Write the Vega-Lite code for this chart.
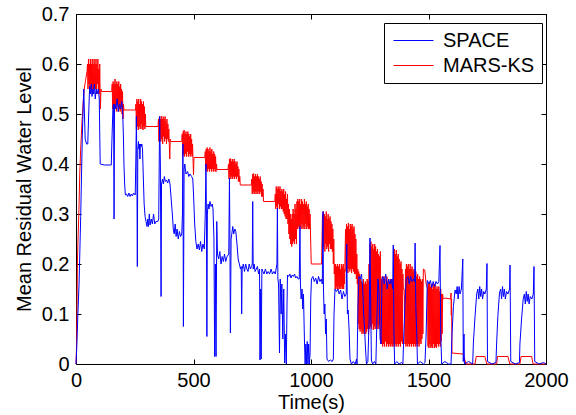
{
"$schema":"https://vega.github.io/schema/vega-lite/v6.json",
"width":470,"height":350,
"autosize":{"type":"none"},
"padding":{"left":76,"top":14,"right":30,"bottom":51},
"config":{"font":"Liberation Sans","view":{"stroke":"black","strokeWidth":1},
"axis":{"grid":false,"domainColor":"black","tickColor":"black","tickSize":-5,"labelFlush":false,"labelColor":"black","labelFontSize":20,"labelFont":"Liberation Sans","titleFont":"Liberation Sans","titleFontSize":20,"titleFontWeight":"normal","titleColor":"black"}},
"datasets":{
"space":[
{"s":"SPACE","t":0,"v":0},{"s":"SPACE","t":3,"v":0.03},{"s":"SPACE","t":8,"v":0.1},{"s":"SPACE","t":13,"v":0.16},{"s":"SPACE","t":20,"v":0.295},{"s":"SPACE","t":27,"v":0.46},{"s":"SPACE","t":33,"v":0.55},{"s":"SPACE","t":36,"v":0.5},{"s":"SPACE","t":39,"v":0.45},{"s":"SPACE","t":45,"v":0.44},{"s":"SPACE","t":50,"v":0.44},{"s":"SPACE","t":54,"v":0.5},{"s":"SPACE","t":58,"v":0.555},{"s":"SPACE","t":62,"v":0.54},{"s":"SPACE","t":65,"v":0.56},{"s":"SPACE","t":68,"v":0.535},{"s":"SPACE","t":72,"v":0.55},{"s":"SPACE","t":75,"v":0.54},{"s":"SPACE","t":78,"v":0.56},{"s":"SPACE","t":82,"v":0.53},{"s":"SPACE","t":86,"v":0.55},{"s":"SPACE","t":90,"v":0.54},{"s":"SPACE","t":95,"v":0.55},{"s":"SPACE","t":99,"v":0.53},{"s":"SPACE","t":101,"v":0.46},{"s":"SPACE","t":103,"v":0.4},{"s":"SPACE","t":120,"v":0.398},{"s":"SPACE","t":150,"v":0.398},
{"s":"SPACE","t":153,"v":0.45},{"s":"SPACE","t":157,"v":0.51},{"s":"SPACE","t":160,"v":0.52},{"s":"SPACE","t":162,"v":0.29},{"s":"SPACE","t":164,"v":0.52},{"s":"SPACE","t":170,"v":0.51},{"s":"SPACE","t":175,"v":0.53},{"s":"SPACE","t":180,"v":0.505},{"s":"SPACE","t":185,"v":0.52},{"s":"SPACE","t":190,"v":0.51},{"s":"SPACE","t":195,"v":0.525},{"s":"SPACE","t":199,"v":0.5},
{"s":"SPACE","t":202,"v":0.45},{"s":"SPACE","t":204,"v":0.4},{"s":"SPACE","t":207,"v":0.36},{"s":"SPACE","t":210,"v":0.338},{"s":"SPACE","t":215,"v":0.34},{"s":"SPACE","t":220,"v":0.335},{"s":"SPACE","t":225,"v":0.342},{"s":"SPACE","t":230,"v":0.335},{"s":"SPACE","t":235,"v":0.34},{"s":"SPACE","t":240,"v":0.336},{"s":"SPACE","t":245,"v":0.342},{"s":"SPACE","t":252,"v":0.338},
{"s":"SPACE","t":255,"v":0.42},{"s":"SPACE","t":257,"v":0.495},{"s":"SPACE","t":259,"v":0.4},{"s":"SPACE","t":261,"v":0.195},{"s":"SPACE","t":263,"v":0.43},{"s":"SPACE","t":266,"v":0.445},{"s":"SPACE","t":268,"v":0.43},{"s":"SPACE","t":270,"v":0.44},{"s":"SPACE","t":272,"v":0.41},{"s":"SPACE","t":274,"v":0.44},{"s":"SPACE","t":277,"v":0.435},{"s":"SPACE","t":280,"v":0.44},{"s":"SPACE","t":283,"v":0.43},
{"s":"SPACE","t":286,"v":0.38},{"s":"SPACE","t":290,"v":0.32},{"s":"SPACE","t":294,"v":0.295},{"s":"SPACE","t":298,"v":0.285},{"s":"SPACE","t":302,"v":0.275},{"s":"SPACE","t":305,"v":0.29},{"s":"SPACE","t":308,"v":0.275},{"s":"SPACE","t":312,"v":0.3},{"s":"SPACE","t":315,"v":0.278},{"s":"SPACE","t":320,"v":0.29},{"s":"SPACE","t":325,"v":0.28},{"s":"SPACE","t":330,"v":0.3},{"s":"SPACE","t":335,"v":0.28},{"s":"SPACE","t":340,"v":0.285},{"s":"SPACE","t":348,"v":0.285},
{"s":"SPACE","t":352,"v":0.29},{"s":"SPACE","t":356,"v":0.495},{"s":"SPACE","t":359,"v":0.4},{"s":"SPACE","t":362,"v":0.135},{"s":"SPACE","t":364,"v":0.36},{"s":"SPACE","t":368,"v":0.37},{"s":"SPACE","t":372,"v":0.36},{"s":"SPACE","t":376,"v":0.375},{"s":"SPACE","t":380,"v":0.365},{"s":"SPACE","t":385,"v":0.368},{"s":"SPACE","t":390,"v":0.362},{"s":"SPACE","t":395,"v":0.37},{"s":"SPACE","t":400,"v":0.36},
{"s":"SPACE","t":405,"v":0.33},{"s":"SPACE","t":410,"v":0.3},{"s":"SPACE","t":414,"v":0.27},{"s":"SPACE","t":418,"v":0.26},{"s":"SPACE","t":422,"v":0.28},{"s":"SPACE","t":426,"v":0.255},{"s":"SPACE","t":430,"v":0.27},{"s":"SPACE","t":435,"v":0.25},{"s":"SPACE","t":440,"v":0.265},{"s":"SPACE","t":445,"v":0.255},{"s":"SPACE","t":450,"v":0.26},
{"s":"SPACE","t":453,"v":0.3},{"s":"SPACE","t":455,"v":0.44},{"s":"SPACE","t":457,"v":0.075},{"s":"SPACE","t":460,"v":0.39},{"s":"SPACE","t":463,"v":0.4},{"s":"SPACE","t":468,"v":0.38},{"s":"SPACE","t":475,"v":0.385},{"s":"SPACE","t":480,"v":0.375},{"s":"SPACE","t":485,"v":0.38},{"s":"SPACE","t":492,"v":0.375},{"s":"SPACE","t":497,"v":0.37},
{"s":"SPACE","t":500,"v":0.34},{"s":"SPACE","t":505,"v":0.28},{"s":"SPACE","t":510,"v":0.245},{"s":"SPACE","t":515,"v":0.23},{"s":"SPACE","t":520,"v":0.24},{"s":"SPACE","t":525,"v":0.228},{"s":"SPACE","t":530,"v":0.245},{"s":"SPACE","t":535,"v":0.225},{"s":"SPACE","t":540,"v":0.24},{"s":"SPACE","t":546,"v":0.23},
{"s":"SPACE","t":550,"v":0.3},{"s":"SPACE","t":553,"v":0.4},{"s":"SPACE","t":555,"v":0.3},{"s":"SPACE","t":557,"v":0.055},{"s":"SPACE","t":559,"v":0.3},{"s":"SPACE","t":562,"v":0.32},{"s":"SPACE","t":566,"v":0.31},{"s":"SPACE","t":570,"v":0.325},{"s":"SPACE","t":575,"v":0.315},{"s":"SPACE","t":580,"v":0.32},{"s":"SPACE","t":583,"v":0.31},
{"s":"SPACE","t":587,"v":0.25},{"s":"SPACE","t":590,"v":0.015},{"s":"SPACE","t":593,"v":0.2},{"s":"SPACE","t":596,"v":0.015},{"s":"SPACE","t":599,"v":0.285},{"s":"SPACE","t":602,"v":0.22},{"s":"SPACE","t":607,"v":0.21},{"s":"SPACE","t":612,"v":0.225},{"s":"SPACE","t":617,"v":0.2},{"s":"SPACE","t":622,"v":0.215},{"s":"SPACE","t":627,"v":0.205},{"s":"SPACE","t":632,"v":0.22},{"s":"SPACE","t":637,"v":0.205},{"s":"SPACE","t":643,"v":0.215},
{"s":"SPACE","t":650,"v":0.22},{"s":"SPACE","t":653,"v":0.372},{"s":"SPACE","t":655,"v":0.25},{"s":"SPACE","t":657,"v":0.062},{"s":"SPACE","t":660,"v":0.25},{"s":"SPACE","t":663,"v":0.26},{"s":"SPACE","t":667,"v":0.275},{"s":"SPACE","t":671,"v":0.26},{"s":"SPACE","t":676,"v":0.27},{"s":"SPACE","t":680,"v":0.265},
{"s":"SPACE","t":685,"v":0.24},{"s":"SPACE","t":690,"v":0.21},{"s":"SPACE","t":695,"v":0.2},{"s":"SPACE","t":700,"v":0.19},{"s":"SPACE","t":703,"v":0.195},{"s":"SPACE","t":705,"v":0.1},{"s":"SPACE","t":707,"v":0.19},{"s":"SPACE","t":712,"v":0.2},{"s":"SPACE","t":717,"v":0.185},{"s":"SPACE","t":722,"v":0.2},{"s":"SPACE","t":727,"v":0.19},{"s":"SPACE","t":732,"v":0.185},{"s":"SPACE","t":737,"v":0.2},{"s":"SPACE","t":742,"v":0.19},{"s":"SPACE","t":747,"v":0.195},{"s":"SPACE","t":750,"v":0.2},{"s":"SPACE","t":752,"v":0.325},{"s":"SPACE","t":754,"v":0.19},{"s":"SPACE","t":758,"v":0.2},{"s":"SPACE","t":762,"v":0.185},{"s":"SPACE","t":767,"v":0.19},{"s":"SPACE","t":772,"v":0.195},{"s":"SPACE","t":777,"v":0.18},{"s":"SPACE","t":781,"v":0.19},{"s":"SPACE","t":783,"v":0.008},{"s":"SPACE","t":786,"v":0.15},{"s":"SPACE","t":788,"v":0.01},{"s":"SPACE","t":791,"v":0.19},
{"s":"SPACE","t":795,"v":0.185},{"s":"SPACE","t":800,"v":0.18},{"s":"SPACE","t":806,"v":0.19},{"s":"SPACE","t":812,"v":0.18},{"s":"SPACE","t":818,"v":0.185},{"s":"SPACE","t":824,"v":0.18},{"s":"SPACE","t":830,"v":0.19},{"s":"SPACE","t":836,"v":0.18},{"s":"SPACE","t":842,"v":0.185},{"s":"SPACE","t":848,"v":0.18},
{"s":"SPACE","t":855,"v":0.2},{"s":"SPACE","t":857,"v":0.312},{"s":"SPACE","t":859,"v":0.17},{"s":"SPACE","t":862,"v":0.16},{"s":"SPACE","t":866,"v":0.022},{"s":"SPACE","t":869,"v":0.17},{"s":"SPACE","t":873,"v":0.1},{"s":"SPACE","t":876,"v":0.16},{"s":"SPACE","t":880,"v":0.05},{"s":"SPACE","t":884,"v":0.15},{"s":"SPACE","t":888,"v":0.002},{"s":"SPACE","t":892,"v":0.06},{"s":"SPACE","t":895,"v":0},{"s":"SPACE","t":898,"v":0.12},{"s":"SPACE","t":900,"v":0.178},
{"s":"SPACE","t":905,"v":0.175},{"s":"SPACE","t":910,"v":0.18},{"s":"SPACE","t":915,"v":0.172},{"s":"SPACE","t":920,"v":0.178},{"s":"SPACE","t":925,"v":0.175},{"s":"SPACE","t":930,"v":0.18},{"s":"SPACE","t":935,"v":0.172},{"s":"SPACE","t":940,"v":0.175},{"s":"SPACE","t":946,"v":0.17},
{"s":"SPACE","t":950,"v":0.17},{"s":"SPACE","t":953,"v":0.275},{"s":"SPACE","t":955,"v":0.16},{"s":"SPACE","t":958,"v":0.13},{"s":"SPACE","t":962,"v":0.15},{"s":"SPACE","t":965,"v":0.11},{"s":"SPACE","t":968,"v":0.14},{"s":"SPACE","t":972,"v":0.05},{"s":"SPACE","t":975,"v":0},{"s":"SPACE","t":978,"v":0.04},{"s":"SPACE","t":981,"v":0},{"s":"SPACE","t":984,"v":0.045},{"s":"SPACE","t":987,"v":0},{"s":"SPACE","t":990,"v":0.04},{"s":"SPACE","t":993,"v":0},{"s":"SPACE","t":996,"v":0.02},
{"s":"SPACE","t":999,"v":0.13},{"s":"SPACE","t":1002,"v":0.17},{"s":"SPACE","t":1008,"v":0.175},{"s":"SPACE","t":1014,"v":0.165},{"s":"SPACE","t":1020,"v":0.172},{"s":"SPACE","t":1026,"v":0.16},{"s":"SPACE","t":1032,"v":0.175},{"s":"SPACE","t":1038,"v":0.165},{"s":"SPACE","t":1044,"v":0.17},
{"s":"SPACE","t":1048,"v":0.16},{"s":"SPACE","t":1051,"v":0.305},{"s":"SPACE","t":1053,"v":0.15},{"s":"SPACE","t":1056,"v":0.1},{"s":"SPACE","t":1059,"v":0.12},{"s":"SPACE","t":1062,"v":0.06},{"s":"SPACE","t":1065,"v":0.09},{"s":"SPACE","t":1068,"v":0.01},{"s":"SPACE","t":1075,"v":0.005},{"s":"SPACE","t":1082,"v":0.008},{"s":"SPACE","t":1090,"v":0.005},{"s":"SPACE","t":1095,"v":0.01},
{"s":"SPACE","t":1098,"v":0.1},{"s":"SPACE","t":1102,"v":0.15},{"s":"SPACE","t":1108,"v":0.145},{"s":"SPACE","t":1114,"v":0.15},{"s":"SPACE","t":1120,"v":0.14},{"s":"SPACE","t":1126,"v":0.148},{"s":"SPACE","t":1132,"v":0.13},{"s":"SPACE","t":1138,"v":0.145},{"s":"SPACE","t":1144,"v":0.135},{"s":"SPACE","t":1150,"v":0.14},
{"s":"SPACE","t":1152,"v":0.24},{"s":"SPACE","t":1155,"v":0.1},{"s":"SPACE","t":1158,"v":0.108},{"s":"SPACE","t":1162,"v":0.07},{"s":"SPACE","t":1166,"v":0.01},{"s":"SPACE","t":1172,"v":0},{"s":"SPACE","t":1180,"v":0.005},{"s":"SPACE","t":1188,"v":0},{"s":"SPACE","t":1194,"v":0.01},
{"s":"SPACE","t":1196,"v":0},{"s":"SPACE","t":1200,"v":0.12},{"s":"SPACE","t":1204,"v":0.175},{"s":"SPACE","t":1210,"v":0.17},{"s":"SPACE","t":1215,"v":0.18},{"s":"SPACE","t":1220,"v":0.15},{"s":"SPACE","t":1224,"v":0.1},{"s":"SPACE","t":1228,"v":0.07},{"s":"SPACE","t":1232,"v":0.03},{"s":"SPACE","t":1236,"v":0},{"s":"SPACE","t":1242,"v":0.005},{"s":"SPACE","t":1248,"v":0.1},{"s":"SPACE","t":1251,"v":0.252},{"s":"SPACE","t":1254,"v":0.12},{"s":"SPACE","t":1257,"v":0.008},{"s":"SPACE","t":1262,"v":0},{"s":"SPACE","t":1270,"v":0.005},{"s":"SPACE","t":1276,"v":0},{"s":"SPACE","t":1281,"v":0.1},{"s":"SPACE","t":1285,"v":0.17},{"s":"SPACE","t":1290,"v":0.14},{"s":"SPACE","t":1294,"v":0.05},{"s":"SPACE","t":1298,"v":0.04},{"s":"SPACE","t":1302,"v":0.17},{"s":"SPACE","t":1306,"v":0.175},{"s":"SPACE","t":1312,"v":0.16},{"s":"SPACE","t":1318,"v":0.18},{"s":"SPACE","t":1324,"v":0.15},{"s":"SPACE","t":1330,"v":0.17},{"s":"SPACE","t":1336,"v":0.16},{"s":"SPACE","t":1342,"v":0.17},
{"s":"SPACE","t":1348,"v":0.15},{"s":"SPACE","t":1350,"v":0.238},{"s":"SPACE","t":1353,"v":0.06},{"s":"SPACE","t":1356,"v":0},{"s":"SPACE","t":1365,"v":0.005},{"s":"SPACE","t":1375,"v":0},{"s":"SPACE","t":1385,"v":0.003},{"s":"SPACE","t":1391,"v":0},{"s":"SPACE","t":1395,"v":0.06},{"s":"SPACE","t":1400,"v":0.12},{"s":"SPACE","t":1405,"v":0.17},{"s":"SPACE","t":1413,"v":0.175},{"s":"SPACE","t":1418,"v":0.16},{"s":"SPACE","t":1424,"v":0.175},{"s":"SPACE","t":1430,"v":0.165},{"s":"SPACE","t":1436,"v":0.17},{"s":"SPACE","t":1441,"v":0.165},{"s":"SPACE","t":1443,"v":0.242},{"s":"SPACE","t":1446,"v":0.115},{"s":"SPACE","t":1450,"v":0.06},{"s":"SPACE","t":1453,"v":0},{"s":"SPACE","t":1465,"v":0.005},{"s":"SPACE","t":1478,"v":0},{"s":"SPACE","t":1485,"v":0.003},{"s":"SPACE","t":1490,"v":0.06},{"s":"SPACE","t":1495,"v":0.167},{"s":"SPACE","t":1502,"v":0.16},{"s":"SPACE","t":1508,"v":0.167},{"s":"SPACE","t":1514,"v":0.153},{"s":"SPACE","t":1520,"v":0.165},{"s":"SPACE","t":1526,"v":0.155},{"s":"SPACE","t":1532,"v":0.165},{"s":"SPACE","t":1538,"v":0.16},{"s":"SPACE","t":1544,"v":0.165},{"s":"SPACE","t":1549,"v":0.237},{"s":"SPACE","t":1552,"v":0.06},{"s":"SPACE","t":1556,"v":0},{"s":"SPACE","t":1570,"v":0.005},{"s":"SPACE","t":1585,"v":0},{"s":"SPACE","t":1596,"v":0},
{"s":"SPACE","t":1600,"v":0.06},{"s":"SPACE","t":1606,"v":0.115},{"s":"SPACE","t":1613,"v":0.148},{"s":"SPACE","t":1618,"v":0.14},{"s":"SPACE","t":1622,"v":0.155},{"s":"SPACE","t":1626,"v":0.13},{"s":"SPACE","t":1630,"v":0.155},{"s":"SPACE","t":1634,"v":0.14},{"s":"SPACE","t":1640,"v":0.15},{"s":"SPACE","t":1646,"v":0.21},{"s":"SPACE","t":1648,"v":0.005},{"s":"SPACE","t":1651,"v":0.06},{"s":"SPACE","t":1653,"v":0},{"s":"SPACE","t":1670,"v":0.005},{"s":"SPACE","t":1688,"v":0},
{"s":"SPACE","t":1691,"v":0.042},{"s":"SPACE","t":1698,"v":0.095},{"s":"SPACE","t":1705,"v":0.14},{"s":"SPACE","t":1710,"v":0.15},{"s":"SPACE","t":1714,"v":0.13},{"s":"SPACE","t":1718,"v":0.155},{"s":"SPACE","t":1722,"v":0.135},{"s":"SPACE","t":1726,"v":0.15},{"s":"SPACE","t":1730,"v":0.13},{"s":"SPACE","t":1735,"v":0.145},{"s":"SPACE","t":1740,"v":0.14},{"s":"SPACE","t":1746,"v":0.15},{"s":"SPACE","t":1749,"v":0.201},{"s":"SPACE","t":1751,"v":0.005},{"s":"SPACE","t":1770,"v":0},{"s":"SPACE","t":1787,"v":0.003},
{"s":"SPACE","t":1790,"v":0.042},{"s":"SPACE","t":1795,"v":0.095},{"s":"SPACE","t":1802,"v":0.142},{"s":"SPACE","t":1807,"v":0.15},{"s":"SPACE","t":1811,"v":0.13},{"s":"SPACE","t":1815,"v":0.155},{"s":"SPACE","t":1819,"v":0.135},{"s":"SPACE","t":1823,"v":0.15},{"s":"SPACE","t":1827,"v":0.13},{"s":"SPACE","t":1832,"v":0.145},{"s":"SPACE","t":1838,"v":0.14},{"s":"SPACE","t":1845,"v":0.15},{"s":"SPACE","t":1847,"v":0.198},{"s":"SPACE","t":1850,"v":0.005},{"s":"SPACE","t":1870,"v":0},{"s":"SPACE","t":1887,"v":0.003},
{"s":"SPACE","t":1889,"v":0.04},{"s":"SPACE","t":1896,"v":0.09},{"s":"SPACE","t":1903,"v":0.13},{"s":"SPACE","t":1908,"v":0.14},{"s":"SPACE","t":1912,"v":0.12},{"s":"SPACE","t":1916,"v":0.145},{"s":"SPACE","t":1920,"v":0.125},{"s":"SPACE","t":1924,"v":0.14},{"s":"SPACE","t":1928,"v":0.12},{"s":"SPACE","t":1933,"v":0.135},{"s":"SPACE","t":1940,"v":0.13},{"s":"SPACE","t":1946,"v":0.14},{"s":"SPACE","t":1949,"v":0.195},{"s":"SPACE","t":1952,"v":0.005},{"s":"SPACE","t":1970,"v":0},{"s":"SPACE","t":1990,"v":0.003},{"s":"SPACE","t":2000,"v":0}
],
"mars":[
{"s":"MARS-KS","t":0,"v":0},{"s":"MARS-KS","t":2,"v":0.03},{"s":"MARS-KS","t":4,"v":0.1},{"s":"MARS-KS","t":6,"v":0.2},{"s":"MARS-KS","t":8,"v":0.24},{"s":"MARS-KS","t":12,"v":0.3},{"s":"MARS-KS","t":16,"v":0.38},{"s":"MARS-KS","t":20,"v":0.43},{"s":"MARS-KS","t":25,"v":0.48},{"s":"MARS-KS","t":30,"v":0.52},{"s":"MARS-KS","t":35,"v":0.55},{"s":"MARS-KS","t":40,"v":0.565},{"s":"MARS-KS","t":45,"v":0.58},{"s":"MARS-KS","t":47,"v":0.585},
{"s":"MARS-KS","t":49,"v":0.6},{"s":"MARS-KS","t":51,"v":0.55},{"s":"MARS-KS","t":53,"v":0.61},{"s":"MARS-KS","t":55,"v":0.56},{"s":"MARS-KS","t":57,"v":0.6},{"s":"MARS-KS","t":59,"v":0.54},{"s":"MARS-KS","t":61,"v":0.61},{"s":"MARS-KS","t":63,"v":0.55},{"s":"MARS-KS","t":65,"v":0.6},{"s":"MARS-KS","t":67,"v":0.56},{"s":"MARS-KS","t":69,"v":0.61},{"s":"MARS-KS","t":71,"v":0.54},{"s":"MARS-KS","t":73,"v":0.6},{"s":"MARS-KS","t":75,"v":0.55},{"s":"MARS-KS","t":77,"v":0.61},{"s":"MARS-KS","t":79,"v":0.56},{"s":"MARS-KS","t":81,"v":0.6},{"s":"MARS-KS","t":83,"v":0.55},{"s":"MARS-KS","t":85,"v":0.61},{"s":"MARS-KS","t":87,"v":0.54},{"s":"MARS-KS","t":89,"v":0.6},{"s":"MARS-KS","t":91,"v":0.56},{"s":"MARS-KS","t":93,"v":0.61},{"s":"MARS-KS","t":95,"v":0.55},{"s":"MARS-KS","t":97,"v":0.59},{"s":"MARS-KS","t":99,"v":0.54},{"s":"MARS-KS","t":101,"v":0.6},{"s":"MARS-KS","t":103,"v":0.53},{"s":"MARS-KS","t":104,"v":0.51},{"s":"MARS-KS","t":106,"v":0.55},{"s":"MARS-KS","t":108,"v":0.545},{"s":"MARS-KS","t":150,"v":0.545},
{"s":"MARS-KS","t":152,"v":0.545},{"s":"MARS-KS","t":154,"v":0.56},{"s":"MARS-KS","t":156,"v":0.51},{"s":"MARS-KS","t":158,"v":0.565},{"s":"MARS-KS","t":160,"v":0.505},{"s":"MARS-KS","t":162,"v":0.56},{"s":"MARS-KS","t":164,"v":0.515},{"s":"MARS-KS","t":166,"v":0.57},{"s":"MARS-KS","t":168,"v":0.51},{"s":"MARS-KS","t":170,"v":0.56},{"s":"MARS-KS","t":172,"v":0.505},{"s":"MARS-KS","t":174,"v":0.565},{"s":"MARS-KS","t":176,"v":0.52},{"s":"MARS-KS","t":178,"v":0.56},{"s":"MARS-KS","t":180,"v":0.505},{"s":"MARS-KS","t":182,"v":0.565},{"s":"MARS-KS","t":184,"v":0.51},{"s":"MARS-KS","t":186,"v":0.555},{"s":"MARS-KS","t":188,"v":0.505},{"s":"MARS-KS","t":190,"v":0.56},{"s":"MARS-KS","t":192,"v":0.515},{"s":"MARS-KS","t":194,"v":0.55},{"s":"MARS-KS","t":196,"v":0.5},{"s":"MARS-KS","t":198,"v":0.545},{"s":"MARS-KS","t":200,"v":0.49},{"s":"MARS-KS","t":202,"v":0.52},{"s":"MARS-KS","t":204,"v":0.508},{"s":"MARS-KS","t":253,"v":0.508},
{"s":"MARS-KS","t":255,"v":0.52},{"s":"MARS-KS","t":257,"v":0.47},{"s":"MARS-KS","t":259,"v":0.53},{"s":"MARS-KS","t":261,"v":0.475},{"s":"MARS-KS","t":263,"v":0.525},{"s":"MARS-KS","t":265,"v":0.468},{"s":"MARS-KS","t":267,"v":0.53},{"s":"MARS-KS","t":269,"v":0.475},{"s":"MARS-KS","t":271,"v":0.52},{"s":"MARS-KS","t":273,"v":0.47},{"s":"MARS-KS","t":275,"v":0.53},{"s":"MARS-KS","t":277,"v":0.48},{"s":"MARS-KS","t":279,"v":0.525},{"s":"MARS-KS","t":281,"v":0.47},{"s":"MARS-KS","t":283,"v":0.52},{"s":"MARS-KS","t":285,"v":0.468},{"s":"MARS-KS","t":287,"v":0.525},{"s":"MARS-KS","t":289,"v":0.475},{"s":"MARS-KS","t":291,"v":0.515},{"s":"MARS-KS","t":293,"v":0.47},{"s":"MARS-KS","t":295,"v":0.5},{"s":"MARS-KS","t":297,"v":0.475},{"s":"MARS-KS","t":349,"v":0.475},
{"s":"MARS-KS","t":351,"v":0.49},{"s":"MARS-KS","t":353,"v":0.445},{"s":"MARS-KS","t":355,"v":0.495},{"s":"MARS-KS","t":357,"v":0.45},{"s":"MARS-KS","t":359,"v":0.49},{"s":"MARS-KS","t":361,"v":0.445},{"s":"MARS-KS","t":363,"v":0.496},{"s":"MARS-KS","t":365,"v":0.45},{"s":"MARS-KS","t":367,"v":0.49},{"s":"MARS-KS","t":369,"v":0.44},{"s":"MARS-KS","t":371,"v":0.495},{"s":"MARS-KS","t":373,"v":0.455},{"s":"MARS-KS","t":375,"v":0.49},{"s":"MARS-KS","t":377,"v":0.445},{"s":"MARS-KS","t":379,"v":0.495},{"s":"MARS-KS","t":381,"v":0.45},{"s":"MARS-KS","t":383,"v":0.485},{"s":"MARS-KS","t":385,"v":0.44},{"s":"MARS-KS","t":387,"v":0.49},{"s":"MARS-KS","t":389,"v":0.45},{"s":"MARS-KS","t":391,"v":0.48},{"s":"MARS-KS","t":393,"v":0.445},{"s":"MARS-KS","t":395,"v":0.47},{"s":"MARS-KS","t":397,"v":0.44},{"s":"MARS-KS","t":399,"v":0.41},{"s":"MARS-KS","t":401,"v":0.45},{"s":"MARS-KS","t":403,"v":0.445},{"s":"MARS-KS","t":448,"v":0.445},
{"s":"MARS-KS","t":450,"v":0.445},{"s":"MARS-KS","t":452,"v":0.46},{"s":"MARS-KS","t":454,"v":0.415},{"s":"MARS-KS","t":456,"v":0.465},{"s":"MARS-KS","t":458,"v":0.42},{"s":"MARS-KS","t":460,"v":0.468},{"s":"MARS-KS","t":462,"v":0.415},{"s":"MARS-KS","t":464,"v":0.46},{"s":"MARS-KS","t":466,"v":0.42},{"s":"MARS-KS","t":468,"v":0.465},{"s":"MARS-KS","t":470,"v":0.415},{"s":"MARS-KS","t":472,"v":0.46},{"s":"MARS-KS","t":474,"v":0.425},{"s":"MARS-KS","t":476,"v":0.465},{"s":"MARS-KS","t":478,"v":0.415},{"s":"MARS-KS","t":480,"v":0.46},{"s":"MARS-KS","t":482,"v":0.42},{"s":"MARS-KS","t":484,"v":0.455},{"s":"MARS-KS","t":486,"v":0.415},{"s":"MARS-KS","t":488,"v":0.46},{"s":"MARS-KS","t":490,"v":0.42},{"s":"MARS-KS","t":492,"v":0.45},{"s":"MARS-KS","t":494,"v":0.415},{"s":"MARS-KS","t":496,"v":0.44},{"s":"MARS-KS","t":498,"v":0.41},{"s":"MARS-KS","t":500,"v":0.378},{"s":"MARS-KS","t":502,"v":0.413},{"s":"MARS-KS","t":548,"v":0.413},
{"s":"MARS-KS","t":550,"v":0.425},{"s":"MARS-KS","t":552,"v":0.385},{"s":"MARS-KS","t":554,"v":0.43},{"s":"MARS-KS","t":556,"v":0.39},{"s":"MARS-KS","t":558,"v":0.433},{"s":"MARS-KS","t":560,"v":0.385},{"s":"MARS-KS","t":562,"v":0.43},{"s":"MARS-KS","t":564,"v":0.39},{"s":"MARS-KS","t":566,"v":0.425},{"s":"MARS-KS","t":568,"v":0.385},{"s":"MARS-KS","t":570,"v":0.433},{"s":"MARS-KS","t":572,"v":0.39},{"s":"MARS-KS","t":574,"v":0.425},{"s":"MARS-KS","t":576,"v":0.385},{"s":"MARS-KS","t":578,"v":0.43},{"s":"MARS-KS","t":580,"v":0.39},{"s":"MARS-KS","t":582,"v":0.42},{"s":"MARS-KS","t":584,"v":0.385},{"s":"MARS-KS","t":586,"v":0.425},{"s":"MARS-KS","t":588,"v":0.39},{"s":"MARS-KS","t":590,"v":0.42},{"s":"MARS-KS","t":592,"v":0.385},{"s":"MARS-KS","t":594,"v":0.415},{"s":"MARS-KS","t":596,"v":0.385},{"s":"MARS-KS","t":598,"v":0.4},{"s":"MARS-KS","t":600,"v":0.389},{"s":"MARS-KS","t":647,"v":0.389},
{"s":"MARS-KS","t":649,"v":0.4},{"s":"MARS-KS","t":651,"v":0.37},{"s":"MARS-KS","t":653,"v":0.41},{"s":"MARS-KS","t":655,"v":0.375},{"s":"MARS-KS","t":657,"v":0.411},{"s":"MARS-KS","t":659,"v":0.37},{"s":"MARS-KS","t":661,"v":0.405},{"s":"MARS-KS","t":663,"v":0.375},{"s":"MARS-KS","t":665,"v":0.41},{"s":"MARS-KS","t":667,"v":0.37},{"s":"MARS-KS","t":669,"v":0.405},{"s":"MARS-KS","t":671,"v":0.375},{"s":"MARS-KS","t":673,"v":0.41},{"s":"MARS-KS","t":675,"v":0.37},{"s":"MARS-KS","t":677,"v":0.405},{"s":"MARS-KS","t":679,"v":0.375},{"s":"MARS-KS","t":681,"v":0.4},{"s":"MARS-KS","t":683,"v":0.37},{"s":"MARS-KS","t":685,"v":0.405},{"s":"MARS-KS","t":687,"v":0.375},{"s":"MARS-KS","t":689,"v":0.395},{"s":"MARS-KS","t":691,"v":0.365},{"s":"MARS-KS","t":693,"v":0.39},{"s":"MARS-KS","t":695,"v":0.365},{"s":"MARS-KS","t":697,"v":0.375},{"s":"MARS-KS","t":699,"v":0.358},{"s":"MARS-KS","t":746,"v":0.358},
{"s":"MARS-KS","t":748,"v":0.37},{"s":"MARS-KS","t":750,"v":0.34},{"s":"MARS-KS","t":752,"v":0.38},{"s":"MARS-KS","t":754,"v":0.345},{"s":"MARS-KS","t":756,"v":0.381},{"s":"MARS-KS","t":758,"v":0.34},{"s":"MARS-KS","t":760,"v":0.375},{"s":"MARS-KS","t":762,"v":0.345},{"s":"MARS-KS","t":764,"v":0.38},{"s":"MARS-KS","t":766,"v":0.34},{"s":"MARS-KS","t":768,"v":0.375},{"s":"MARS-KS","t":770,"v":0.345},{"s":"MARS-KS","t":772,"v":0.38},{"s":"MARS-KS","t":774,"v":0.34},{"s":"MARS-KS","t":776,"v":0.375},{"s":"MARS-KS","t":778,"v":0.345},{"s":"MARS-KS","t":780,"v":0.37},{"s":"MARS-KS","t":782,"v":0.34},{"s":"MARS-KS","t":784,"v":0.375},{"s":"MARS-KS","t":786,"v":0.345},{"s":"MARS-KS","t":788,"v":0.365},{"s":"MARS-KS","t":790,"v":0.335},{"s":"MARS-KS","t":792,"v":0.36},{"s":"MARS-KS","t":794,"v":0.335},{"s":"MARS-KS","t":796,"v":0.35},{"s":"MARS-KS","t":798,"v":0.325},{"s":"MARS-KS","t":846,"v":0.325},
{"s":"MARS-KS","t":848,"v":0.34},{"s":"MARS-KS","t":850,"v":0.31},{"s":"MARS-KS","t":852,"v":0.355},{"s":"MARS-KS","t":854,"v":0.315},{"s":"MARS-KS","t":856,"v":0.35},{"s":"MARS-KS","t":858,"v":0.31},{"s":"MARS-KS","t":860,"v":0.355},{"s":"MARS-KS","t":862,"v":0.32},{"s":"MARS-KS","t":864,"v":0.35},{"s":"MARS-KS","t":866,"v":0.31},{"s":"MARS-KS","t":868,"v":0.355},{"s":"MARS-KS","t":870,"v":0.315},{"s":"MARS-KS","t":872,"v":0.345},{"s":"MARS-KS","t":874,"v":0.31},{"s":"MARS-KS","t":876,"v":0.35},{"s":"MARS-KS","t":878,"v":0.31},{"s":"MARS-KS","t":880,"v":0.345},{"s":"MARS-KS","t":882,"v":0.305},{"s":"MARS-KS","t":884,"v":0.35},{"s":"MARS-KS","t":886,"v":0.3},{"s":"MARS-KS","t":888,"v":0.34},{"s":"MARS-KS","t":890,"v":0.295},{"s":"MARS-KS","t":892,"v":0.345},{"s":"MARS-KS","t":894,"v":0.29},{"s":"MARS-KS","t":896,"v":0.33},{"s":"MARS-KS","t":898,"v":0.29},{"s":"MARS-KS","t":900,"v":0.34},{"s":"MARS-KS","t":902,"v":0.28},{"s":"MARS-KS","t":904,"v":0.32},{"s":"MARS-KS","t":906,"v":0.26},{"s":"MARS-KS","t":908,"v":0.31},{"s":"MARS-KS","t":910,"v":0.25},{"s":"MARS-KS","t":912,"v":0.3},{"s":"MARS-KS","t":914,"v":0.24},{"s":"MARS-KS","t":916,"v":0.29},{"s":"MARS-KS","t":918,"v":0.235},{"s":"MARS-KS","t":920,"v":0.3},{"s":"MARS-KS","t":922,"v":0.24},{"s":"MARS-KS","t":924,"v":0.31},{"s":"MARS-KS","t":926,"v":0.245},{"s":"MARS-KS","t":928,"v":0.3},{"s":"MARS-KS","t":930,"v":0.24},{"s":"MARS-KS","t":932,"v":0.32},{"s":"MARS-KS","t":934,"v":0.25},{"s":"MARS-KS","t":936,"v":0.31},{"s":"MARS-KS","t":938,"v":0.24},{"s":"MARS-KS","t":940,"v":0.325},{"s":"MARS-KS","t":942,"v":0.27},{"s":"MARS-KS","t":944,"v":0.33},{"s":"MARS-KS","t":946,"v":0.275},{"s":"MARS-KS","t":948,"v":0.325},{"s":"MARS-KS","t":950,"v":0.27},{"s":"MARS-KS","t":952,"v":0.33},{"s":"MARS-KS","t":954,"v":0.275},{"s":"MARS-KS","t":956,"v":0.32},{"s":"MARS-KS","t":958,"v":0.27},{"s":"MARS-KS","t":960,"v":0.33},{"s":"MARS-KS","t":962,"v":0.28},{"s":"MARS-KS","t":964,"v":0.325},{"s":"MARS-KS","t":966,"v":0.27},{"s":"MARS-KS","t":968,"v":0.32},{"s":"MARS-KS","t":970,"v":0.275},{"s":"MARS-KS","t":972,"v":0.33},{"s":"MARS-KS","t":974,"v":0.27},{"s":"MARS-KS","t":976,"v":0.32},{"s":"MARS-KS","t":978,"v":0.28},{"s":"MARS-KS","t":980,"v":0.325},{"s":"MARS-KS","t":982,"v":0.27},{"s":"MARS-KS","t":984,"v":0.315},{"s":"MARS-KS","t":986,"v":0.275},{"s":"MARS-KS","t":988,"v":0.32},{"s":"MARS-KS","t":990,"v":0.27},{"s":"MARS-KS","t":992,"v":0.31},{"s":"MARS-KS","t":994,"v":0.27},{"s":"MARS-KS","t":996,"v":0.3},{"s":"MARS-KS","t":998,"v":0.26},{"s":"MARS-KS","t":1001,"v":0.2},{"s":"MARS-KS","t":1045,"v":0.2},
{"s":"MARS-KS","t":1047,"v":0.25},{"s":"MARS-KS","t":1049,"v":0.3},{"s":"MARS-KS","t":1051,"v":0.23},{"s":"MARS-KS","t":1053,"v":0.305},{"s":"MARS-KS","t":1055,"v":0.235},{"s":"MARS-KS","t":1057,"v":0.3},{"s":"MARS-KS","t":1059,"v":0.225},{"s":"MARS-KS","t":1061,"v":0.295},{"s":"MARS-KS","t":1063,"v":0.24},{"s":"MARS-KS","t":1065,"v":0.305},{"s":"MARS-KS","t":1067,"v":0.23},{"s":"MARS-KS","t":1069,"v":0.29},{"s":"MARS-KS","t":1071,"v":0.235},{"s":"MARS-KS","t":1073,"v":0.3},{"s":"MARS-KS","t":1075,"v":0.225},{"s":"MARS-KS","t":1077,"v":0.29},{"s":"MARS-KS","t":1079,"v":0.24},{"s":"MARS-KS","t":1081,"v":0.295},{"s":"MARS-KS","t":1083,"v":0.23},{"s":"MARS-KS","t":1085,"v":0.285},{"s":"MARS-KS","t":1087,"v":0.23},{"s":"MARS-KS","t":1089,"v":0.28},{"s":"MARS-KS","t":1091,"v":0.225},{"s":"MARS-KS","t":1093,"v":0.27},{"s":"MARS-KS","t":1095,"v":0.2},{"s":"MARS-KS","t":1097,"v":0.25},{"s":"MARS-KS","t":1099,"v":0.18},
{"s":"MARS-KS","t":1101,"v":0.2},{"s":"MARS-KS","t":1103,"v":0.15},{"s":"MARS-KS","t":1105,"v":0.2},{"s":"MARS-KS","t":1107,"v":0.155},{"s":"MARS-KS","t":1109,"v":0.195},{"s":"MARS-KS","t":1111,"v":0.15},{"s":"MARS-KS","t":1113,"v":0.2},{"s":"MARS-KS","t":1115,"v":0.148},{"s":"MARS-KS","t":1117,"v":0.195},{"s":"MARS-KS","t":1119,"v":0.155},{"s":"MARS-KS","t":1121,"v":0.2},{"s":"MARS-KS","t":1123,"v":0.15},{"s":"MARS-KS","t":1125,"v":0.19},{"s":"MARS-KS","t":1127,"v":0.15},{"s":"MARS-KS","t":1129,"v":0.2},{"s":"MARS-KS","t":1131,"v":0.155},{"s":"MARS-KS","t":1133,"v":0.195},{"s":"MARS-KS","t":1135,"v":0.15},{"s":"MARS-KS","t":1137,"v":0.2},{"s":"MARS-KS","t":1139,"v":0.15},{"s":"MARS-KS","t":1141,"v":0.19},{"s":"MARS-KS","t":1143,"v":0.16},
{"s":"MARS-KS","t":1145,"v":0.22},{"s":"MARS-KS","t":1147,"v":0.27},{"s":"MARS-KS","t":1149,"v":0.185},{"s":"MARS-KS","t":1151,"v":0.28},{"s":"MARS-KS","t":1153,"v":0.19},{"s":"MARS-KS","t":1155,"v":0.275},{"s":"MARS-KS","t":1157,"v":0.182},{"s":"MARS-KS","t":1159,"v":0.282},{"s":"MARS-KS","t":1161,"v":0.19},{"s":"MARS-KS","t":1163,"v":0.27},{"s":"MARS-KS","t":1165,"v":0.185},{"s":"MARS-KS","t":1167,"v":0.28},{"s":"MARS-KS","t":1169,"v":0.19},{"s":"MARS-KS","t":1171,"v":0.275},{"s":"MARS-KS","t":1173,"v":0.182},{"s":"MARS-KS","t":1175,"v":0.28},{"s":"MARS-KS","t":1177,"v":0.19},{"s":"MARS-KS","t":1179,"v":0.27},{"s":"MARS-KS","t":1181,"v":0.185},{"s":"MARS-KS","t":1183,"v":0.275},{"s":"MARS-KS","t":1185,"v":0.18},{"s":"MARS-KS","t":1187,"v":0.26},{"s":"MARS-KS","t":1189,"v":0.18},{"s":"MARS-KS","t":1191,"v":0.25},{"s":"MARS-KS","t":1193,"v":0.17},{"s":"MARS-KS","t":1195,"v":0.22},{"s":"MARS-KS","t":1197,"v":0.16},
{"s":"MARS-KS","t":1199,"v":0.19},{"s":"MARS-KS","t":1201,"v":0.08},{"s":"MARS-KS","t":1203,"v":0.185},{"s":"MARS-KS","t":1205,"v":0.07},{"s":"MARS-KS","t":1207,"v":0.18},{"s":"MARS-KS","t":1209,"v":0.065},{"s":"MARS-KS","t":1211,"v":0.17},{"s":"MARS-KS","t":1213,"v":0.07},{"s":"MARS-KS","t":1215,"v":0.165},{"s":"MARS-KS","t":1217,"v":0.06},{"s":"MARS-KS","t":1219,"v":0.16},{"s":"MARS-KS","t":1221,"v":0.065},{"s":"MARS-KS","t":1223,"v":0.17},{"s":"MARS-KS","t":1225,"v":0.06},{"s":"MARS-KS","t":1227,"v":0.16},{"s":"MARS-KS","t":1229,"v":0.07},{"s":"MARS-KS","t":1231,"v":0.165},{"s":"MARS-KS","t":1233,"v":0.06},{"s":"MARS-KS","t":1235,"v":0.16},{"s":"MARS-KS","t":1237,"v":0.065},{"s":"MARS-KS","t":1239,"v":0.17},{"s":"MARS-KS","t":1241,"v":0.07},{"s":"MARS-KS","t":1243,"v":0.165},{"s":"MARS-KS","t":1245,"v":0.06},{"s":"MARS-KS","t":1247,"v":0.2},{"s":"MARS-KS","t":1249,"v":0.07},
{"s":"MARS-KS","t":1251,"v":0.24},{"s":"MARS-KS","t":1253,"v":0.075},{"s":"MARS-KS","t":1255,"v":0.245},{"s":"MARS-KS","t":1257,"v":0.07},{"s":"MARS-KS","t":1259,"v":0.235},{"s":"MARS-KS","t":1261,"v":0.08},{"s":"MARS-KS","t":1263,"v":0.24},{"s":"MARS-KS","t":1265,"v":0.068},{"s":"MARS-KS","t":1267,"v":0.23},{"s":"MARS-KS","t":1269,"v":0.075},{"s":"MARS-KS","t":1271,"v":0.24},{"s":"MARS-KS","t":1273,"v":0.07},{"s":"MARS-KS","t":1275,"v":0.235},{"s":"MARS-KS","t":1277,"v":0.08},{"s":"MARS-KS","t":1279,"v":0.225},{"s":"MARS-KS","t":1281,"v":0.07},{"s":"MARS-KS","t":1283,"v":0.23},{"s":"MARS-KS","t":1285,"v":0.075},{"s":"MARS-KS","t":1287,"v":0.22},{"s":"MARS-KS","t":1289,"v":0.07},{"s":"MARS-KS","t":1291,"v":0.215},{"s":"MARS-KS","t":1293,"v":0.08},{"s":"MARS-KS","t":1295,"v":0.225},{"s":"MARS-KS","t":1297,"v":0.04},
{"s":"MARS-KS","t":1299,"v":0.17},{"s":"MARS-KS","t":1301,"v":0.04},{"s":"MARS-KS","t":1303,"v":0.175},{"s":"MARS-KS","t":1305,"v":0.035},{"s":"MARS-KS","t":1307,"v":0.165},{"s":"MARS-KS","t":1309,"v":0.04},{"s":"MARS-KS","t":1311,"v":0.175},{"s":"MARS-KS","t":1313,"v":0.035},{"s":"MARS-KS","t":1315,"v":0.17},{"s":"MARS-KS","t":1317,"v":0.045},{"s":"MARS-KS","t":1319,"v":0.16},{"s":"MARS-KS","t":1321,"v":0.035},{"s":"MARS-KS","t":1323,"v":0.175},{"s":"MARS-KS","t":1325,"v":0.04},{"s":"MARS-KS","t":1327,"v":0.165},{"s":"MARS-KS","t":1329,"v":0.035},{"s":"MARS-KS","t":1331,"v":0.17},{"s":"MARS-KS","t":1333,"v":0.04},{"s":"MARS-KS","t":1335,"v":0.16},{"s":"MARS-KS","t":1337,"v":0.035},{"s":"MARS-KS","t":1339,"v":0.17},{"s":"MARS-KS","t":1341,"v":0.04},{"s":"MARS-KS","t":1343,"v":0.165},{"s":"MARS-KS","t":1345,"v":0.035},{"s":"MARS-KS","t":1347,"v":0.17},
{"s":"MARS-KS","t":1349,"v":0.035},{"s":"MARS-KS","t":1351,"v":0.225},{"s":"MARS-KS","t":1353,"v":0.04},{"s":"MARS-KS","t":1355,"v":0.23},{"s":"MARS-KS","t":1357,"v":0.035},{"s":"MARS-KS","t":1359,"v":0.22},{"s":"MARS-KS","t":1361,"v":0.04},{"s":"MARS-KS","t":1363,"v":0.228},{"s":"MARS-KS","t":1365,"v":0.035},{"s":"MARS-KS","t":1367,"v":0.215},{"s":"MARS-KS","t":1369,"v":0.04},{"s":"MARS-KS","t":1371,"v":0.22},{"s":"MARS-KS","t":1373,"v":0.035},{"s":"MARS-KS","t":1375,"v":0.21},{"s":"MARS-KS","t":1377,"v":0.04},{"s":"MARS-KS","t":1379,"v":0.2},{"s":"MARS-KS","t":1381,"v":0.035},{"s":"MARS-KS","t":1383,"v":0.205},{"s":"MARS-KS","t":1385,"v":0.045},{"s":"MARS-KS","t":1387,"v":0.19},{"s":"MARS-KS","t":1389,"v":0.04},{"s":"MARS-KS","t":1391,"v":0.18},{"s":"MARS-KS","t":1393,"v":0.15},{"s":"MARS-KS","t":1396,"v":0.15},{"s":"MARS-KS","t":1398,"v":0.13},
{"s":"MARS-KS","t":1400,"v":0.04},{"s":"MARS-KS","t":1402,"v":0.19},{"s":"MARS-KS","t":1404,"v":0.035},{"s":"MARS-KS","t":1406,"v":0.2},{"s":"MARS-KS","t":1408,"v":0.04},{"s":"MARS-KS","t":1410,"v":0.195},{"s":"MARS-KS","t":1412,"v":0.035},{"s":"MARS-KS","t":1414,"v":0.2},{"s":"MARS-KS","t":1416,"v":0.04},{"s":"MARS-KS","t":1418,"v":0.19},{"s":"MARS-KS","t":1420,"v":0.035},{"s":"MARS-KS","t":1422,"v":0.2},{"s":"MARS-KS","t":1424,"v":0.04},{"s":"MARS-KS","t":1426,"v":0.19},{"s":"MARS-KS","t":1428,"v":0.035},{"s":"MARS-KS","t":1430,"v":0.195},{"s":"MARS-KS","t":1432,"v":0.04},{"s":"MARS-KS","t":1434,"v":0.185},{"s":"MARS-KS","t":1436,"v":0.035},{"s":"MARS-KS","t":1438,"v":0.19},{"s":"MARS-KS","t":1440,"v":0.04},{"s":"MARS-KS","t":1442,"v":0.18},{"s":"MARS-KS","t":1444,"v":0.035},{"s":"MARS-KS","t":1446,"v":0.185},{"s":"MARS-KS","t":1448,"v":0.04},{"s":"MARS-KS","t":1450,"v":0.175},{"s":"MARS-KS","t":1452,"v":0.035},{"s":"MARS-KS","t":1454,"v":0.18},{"s":"MARS-KS","t":1456,"v":0.04},{"s":"MARS-KS","t":1458,"v":0.17},{"s":"MARS-KS","t":1460,"v":0.035},{"s":"MARS-KS","t":1462,"v":0.175},{"s":"MARS-KS","t":1464,"v":0.045},{"s":"MARS-KS","t":1466,"v":0.17},{"s":"MARS-KS","t":1468,"v":0.04},{"s":"MARS-KS","t":1470,"v":0.165},{"s":"MARS-KS","t":1472,"v":0.05},{"s":"MARS-KS","t":1474,"v":0.17},{"s":"MARS-KS","t":1476,"v":0.06},{"s":"MARS-KS","t":1478,"v":0.19},{"s":"MARS-KS","t":1484,"v":0.188},{"s":"MARS-KS","t":1490,"v":0.16},{"s":"MARS-KS","t":1496,"v":0.15},
{"s":"MARS-KS","t":1498,"v":0.035},{"s":"MARS-KS","t":1500,"v":0.16},{"s":"MARS-KS","t":1502,"v":0.032},{"s":"MARS-KS","t":1504,"v":0.162},{"s":"MARS-KS","t":1506,"v":0.04},{"s":"MARS-KS","t":1508,"v":0.155},{"s":"MARS-KS","t":1510,"v":0.032},{"s":"MARS-KS","t":1512,"v":0.16},{"s":"MARS-KS","t":1514,"v":0.035},{"s":"MARS-KS","t":1516,"v":0.15},{"s":"MARS-KS","t":1518,"v":0.032},{"s":"MARS-KS","t":1520,"v":0.16},{"s":"MARS-KS","t":1522,"v":0.04},{"s":"MARS-KS","t":1524,"v":0.155},{"s":"MARS-KS","t":1526,"v":0.032},{"s":"MARS-KS","t":1528,"v":0.16},{"s":"MARS-KS","t":1530,"v":0.035},{"s":"MARS-KS","t":1532,"v":0.15},{"s":"MARS-KS","t":1534,"v":0.032},{"s":"MARS-KS","t":1536,"v":0.155},{"s":"MARS-KS","t":1538,"v":0.04},{"s":"MARS-KS","t":1540,"v":0.15},{"s":"MARS-KS","t":1542,"v":0.035},{"s":"MARS-KS","t":1544,"v":0.155},{"s":"MARS-KS","t":1546,"v":0.04},{"s":"MARS-KS","t":1548,"v":0.145},{"s":"MARS-KS","t":1550,"v":0.035},{"s":"MARS-KS","t":1552,"v":0.15},{"s":"MARS-KS","t":1554,"v":0.045},{"s":"MARS-KS","t":1556,"v":0.14},{"s":"MARS-KS","t":1558,"v":0.06},{"s":"MARS-KS","t":1560,"v":0.14},{"s":"MARS-KS","t":1562,"v":0.13},
{"s":"MARS-KS","t":1570,"v":0.132},{"s":"MARS-KS","t":1594,"v":0.13},{"s":"MARS-KS","t":1596,"v":0.142},{"s":"MARS-KS","t":1597,"v":0.098},{"s":"MARS-KS","t":1598,"v":0.13},{"s":"MARS-KS","t":1600,"v":0.022},{"s":"MARS-KS","t":1647,"v":0.02},{"s":"MARS-KS","t":1660,"v":0},{"s":"MARS-KS","t":1698,"v":0},{"s":"MARS-KS","t":1703,"v":0.015},{"s":"MARS-KS","t":1740,"v":0.015},{"s":"MARS-KS","t":1748,"v":0},{"s":"MARS-KS","t":1790,"v":0},{"s":"MARS-KS","t":1794,"v":0.015},{"s":"MARS-KS","t":1838,"v":0.015},{"s":"MARS-KS","t":1846,"v":0},{"s":"MARS-KS","t":1889,"v":0},{"s":"MARS-KS","t":1894,"v":0.015},{"s":"MARS-KS","t":1939,"v":0.015},{"s":"MARS-KS","t":1945,"v":0},{"s":"MARS-KS","t":2000,"v":0}
]},
"layer":[
{"data":{"name":"mars"},
"mark":{"type":"line","strokeWidth":1},
"encoding":{
"x":{"field":"t","type":"quantitative","scale":{"domain":[0,2000],"nice":false},"axis":{"orient":"top","labels":false,"title":null,"values":[0,500,1000,1500,2000]}},
"y":{"field":"v","type":"quantitative","scale":{"domain":[0,0.7],"nice":false},"axis":{"orient":"right","labels":false,"title":null,"values":[0,0.1,0.2,0.3,0.4,0.5,0.6,0.7]}},
"color":{"field":"s","type":"nominal","scale":{"domain":["SPACE","MARS-KS"],"range":["#0000ff","#ff0000"]},"legend":{"orient":"none","legendX":308,"legendY":9,"title":null,"symbolType":"stroke","symbolSize":1600,"symbolStrokeWidth":1,"symbolOffset":2,"labelOffset":9,"clipHeight":21,"labelFontSize":20,"labelFont":"Liberation Sans","labelColor":"black","padding":7,"strokeColor":"black","fillColor":"white","rowPadding":4}}}},
{"data":{"name":"space"},
"mark":{"type":"line","strokeWidth":1},
"encoding":{
"x":{"field":"t","type":"quantitative","scale":{"domain":[0,2000],"nice":false},"axis":{"orient":"bottom","format":"d","title":"Time(s)","values":[0,500,1000,1500,2000],"labelPadding":11,"titleBaseline":"alphabetic","titleY":44}},
"y":{"field":"v","type":"quantitative","scale":{"domain":[0,0.7],"nice":false},"axis":{"orient":"left","format":".1~f","title":"Mean Residual Water Level","values":[0,0.1,0.2,0.3,0.4,0.5,0.6,0.7],"labelPadding":12,"titleBaseline":"alphabetic","titleX":-46}},
"color":{"field":"s","type":"nominal","scale":{"domain":["SPACE","MARS-KS"],"range":["#0000ff","#ff0000"]},"legend":{"orient":"none","legendX":308,"legendY":9,"title":null,"symbolType":"stroke","symbolSize":1600,"symbolStrokeWidth":1,"symbolOffset":2,"labelOffset":9,"clipHeight":21,"labelFontSize":20,"labelFont":"Liberation Sans","labelColor":"black","padding":7,"strokeColor":"black","fillColor":"white","rowPadding":4}}}}
],
"resolve":{"axis":{"x":"independent","y":"independent"}}
}
